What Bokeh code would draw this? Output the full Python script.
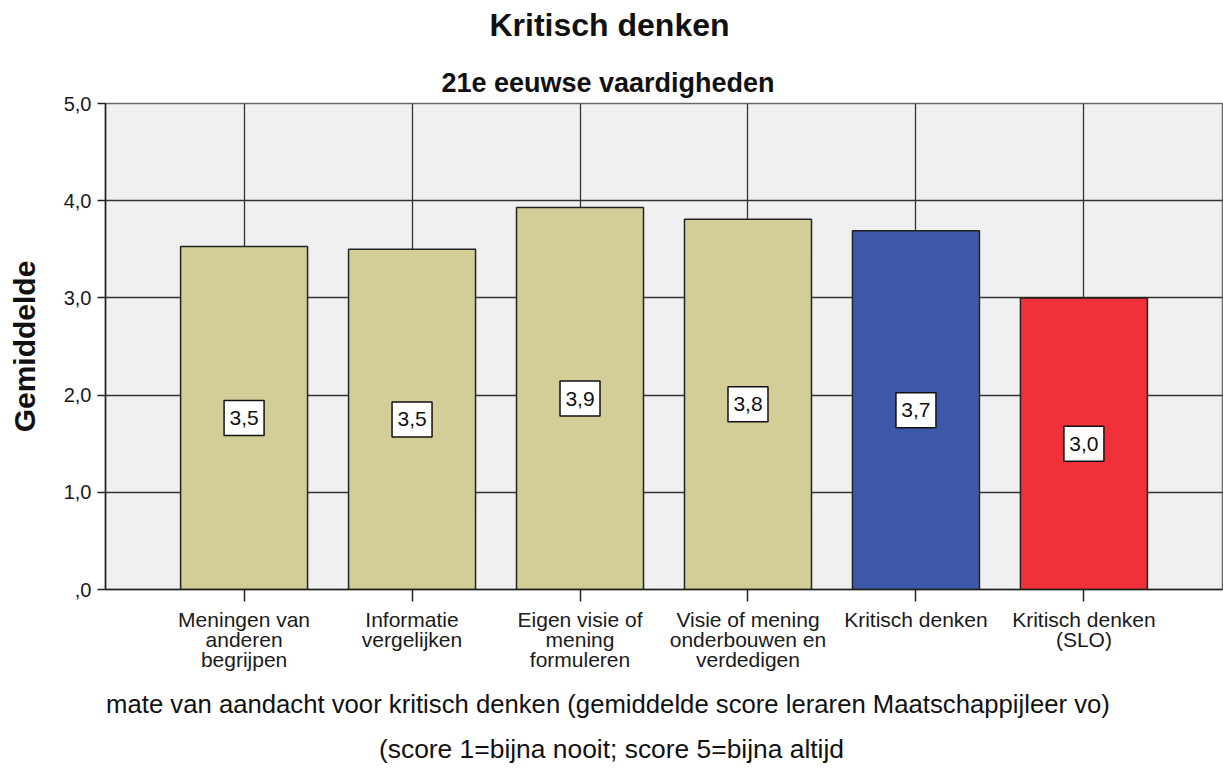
from bokeh.plotting import figure
from bokeh.models import Range1d, FixedTicker, LinearAxis
from bokeh.embed import file_html
from bokeh.resources import INLINE
from bokeh.core.properties import value

# ---- data ----
categories = [
    "Meningen van\nanderen\nbegrijpen",
    "Informatie\nvergelijken",
    "Eigen visie of\nmening\nformuleren",
    "Visie of mening\nonderbouwen en\nverdedigen",
    "Kritisch denken",
    "Kritisch denken\n(SLO)",
]
means = [3.53, 3.50, 3.93, 3.81, 3.69, 3.00]
bar_colors = ["#d3ce97", "#d3ce97", "#d3ce97", "#d3ce97", "#3d58a8", "#f0313a"]
y_ticks = [0, 1, 2, 3, 4, 5]
y_tick_labels = [",0", "1,0", "2,0", "3,0", "4,0", "5,0"]
title_text = "Kritisch denken"
subtitle_text = "21e eeuwse vaardigheden"
xlabel_line1 = "mate van aandacht voor kritisch denken (gemiddelde score leraren Maatschappijleer vo)"
xlabel_line2 = "(score 1=bijna nooit; score 5=bijna altijd"

FONT = "Liberation Sans"
X0, X1 = -0.825, 5.825          # x range
FRAME_L, FRAME_R = 105, 1222    # frame pixel edges


def x_at_px(px):
    # data x that sits at a given horizontal pixel (used to centre the captions)
    return X0 + (px - FRAME_L) * (X1 - X0) / (FRAME_R - FRAME_L)


xs = list(range(len(categories)))
mids = [m / 2 for m in means]
value_labels = [f"{m:.1f}".replace(".", ",") for m in means]

p = figure(
    width=1223, height=769,
    x_range=Range1d(X0, X1), y_range=Range1d(0, 5),
    output_backend="svg", toolbar_location=None, title=None,
    min_border_left=FRAME_L, min_border_right=1, min_border_top=103, min_border_bottom=180,
    background_fill_color="#f0f0f0", border_fill_color="white",
)
p.outline_line_color = "#6a6a6a"
p.outline_line_width = 1.5

# grid
p.xgrid.ticker = FixedTicker(ticks=xs)
p.ygrid.ticker = FixedTicker(ticks=y_ticks)
for g in (p.xgrid, p.ygrid):
    g.grid_line_color = "#333333"
    g.grid_line_width = 1.3

# bars
p.vbar(x=xs, top=means, bottom=0, width=0.756, fill_color=bar_colors,
       line_color="#222222", line_width=1.5)

# value boxes
p.rect(x=xs, y=mids, width=40, height=35, width_units="screen", height_units="screen",
       fill_color="white", line_color="#111111", line_width=1.5)
p.text(x=xs, y=mids, text=value_labels, text_align="center", text_baseline="middle",
       text_font=value(FONT), text_font_size="21px", text_color="#111111")

# axes
p.xaxis.ticker = FixedTicker(ticks=xs)
p.xaxis.major_label_overrides = {i: c for i, c in zip(xs, categories)}
p.yaxis.ticker = FixedTicker(ticks=y_ticks)
p.yaxis.major_label_overrides = {t: l for t, l in zip(y_ticks, y_tick_labels)}
for ax in (p.xaxis[0], p.yaxis[0]):
    ax.axis_line_color = "#222222"
    ax.axis_line_width = 1.5
    ax.major_tick_line_color = "#222222"
    ax.major_tick_line_width = 1.5
    ax.major_tick_in = 0
    ax.minor_tick_line_color = None
    ax.major_label_text_font = FONT
    ax.major_label_text_color = "#1a1a1a"
p.xaxis.major_label_text_font_size = "21px"
p.xaxis.major_label_text_line_height = 0.88
p.yaxis.major_label_text_font_size = "20px"
p.xaxis.major_tick_out = 12
p.xaxis.major_label_standoff = 6
p.yaxis.major_tick_out = 8
p.yaxis.major_label_standoff = 6
p.yaxis.axis_label = "Gemiddelde"
p.yaxis.axis_label_text_font = FONT
p.yaxis.axis_label_text_font_size = "30px"
p.yaxis.axis_label_text_font_style = "bold"
p.yaxis.axis_label_text_color = "#111111"
p.yaxis.axis_label_standoff = 20


def caption_axis(text, px_center, size, bold, standoff):
    pos = x_at_px(px_center)
    ax = LinearAxis(ticker=FixedTicker(ticks=[pos]), major_label_overrides={pos: text})
    ax.axis_line_color = None
    ax.major_tick_line_color = None
    ax.minor_tick_line_color = None
    ax.major_tick_in = 0
    ax.major_tick_out = 0
    ax.major_label_standoff = standoff
    ax.major_label_text_font = FONT
    ax.major_label_text_font_size = size
    ax.major_label_text_font_style = "bold" if bold else "normal"
    ax.major_label_text_color = "#111111"
    return ax


# titles above (added from the frame outward)
p.add_layout(caption_axis(subtitle_text, 607.5, "27px", True, 6), "above")
p.add_layout(caption_axis(title_text, 609, "32px", True, 22), "above")
# captions below the category labels
p.add_layout(caption_axis(xlabel_line1, 607.5, "25.7px", False, 16), "below")
p.add_layout(caption_axis(xlabel_line2, 611, "26.4px", False, 13), "below")

open("out.html", "w").write(file_html(p, INLINE))
